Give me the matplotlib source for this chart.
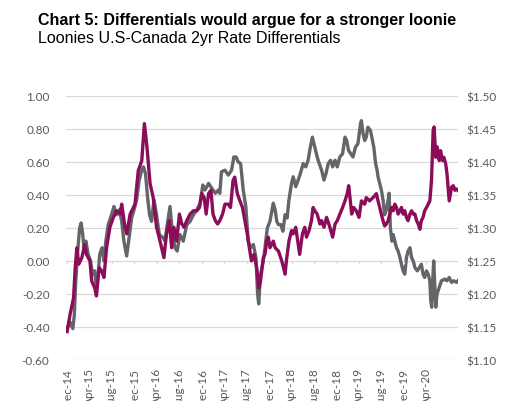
import matplotlib
matplotlib.use('Agg')
import matplotlib.pyplot as plt
from matplotlib.ticker import MultipleLocator, FuncFormatter, FixedLocator
import matplotlib.dates as mdates
import pandas as pd

plt.rcParams['axes.unicode_minus'] = False

# ------------------------------------------------------------
# Data
# ------------------------------------------------------------
# US-Canada 2yr differential (left axis, %)
diff_dates = [
    '2014-12-01', '2014-12-17', '2015-01-01', '2015-01-09', '2015-01-17', '2015-01-26',
    '2015-02-07', '2015-02-15', '2015-02-24', '2015-03-02', '2015-03-13', '2015-03-25',
    '2015-04-07', '2015-04-18', '2015-04-29', '2015-05-09', '2015-05-18', '2015-05-27',
    '2015-06-08', '2015-06-19', '2015-06-29', '2015-07-12', '2015-07-30', '2015-08-12',
    '2015-08-26', '2015-09-10', '2015-09-23', '2015-10-05', '2015-10-20', '2015-11-04',
    '2015-11-16', '2015-11-29', '2015-12-13', '2015-12-27', '2016-01-10', '2016-01-19',
    '2016-01-30', '2016-02-10', '2016-02-21', '2016-03-03', '2016-03-16', '2016-03-30',
    '2016-04-14', '2016-05-05', '2016-05-15', '2016-05-27', '2016-06-11', '2016-06-25',
    '2016-07-08', '2016-07-20', '2016-08-04', '2016-08-22', '2016-09-10', '2016-09-28',
    '2016-10-16', '2016-11-04', '2016-11-21', '2016-12-06', '2016-12-18', '2017-01-06',
    '2017-01-24', '2017-02-12', '2017-03-01', '2017-03-08', '2017-03-17', '2017-04-05',
    '2017-04-23', '2017-05-11', '2017-05-23', '2017-06-04', '2017-06-16', '2017-06-29',
    '2017-07-13', '2017-07-27', '2017-08-09', '2017-08-22', '2017-09-06', '2017-09-20',
    '2017-09-29', '2017-10-05', '2017-10-15', '2017-10-30', '2017-11-08', '2017-11-21',
    '2017-12-05', '2017-12-23', '2018-01-02', '2018-01-11', '2018-01-20', '2018-02-02',
    '2018-02-13', '2018-02-25', '2018-03-08', '2018-03-18', '2018-04-01', '2018-04-10',
    '2018-04-24', '2018-05-07', '2018-05-19', '2018-06-03', '2018-06-17', '2018-06-30',
    '2018-07-12', '2018-07-23', '2018-08-05', '2018-08-18', '2018-08-29', '2018-09-11',
    '2018-09-24', '2018-10-05', '2018-10-17', '2018-10-30', '2018-11-10', '2018-11-23',
    '2018-12-05', '2018-12-19', '2019-01-03', '2019-01-16', '2019-01-25', '2019-02-04',
    '2019-02-16', '2019-02-28', '2019-03-14', '2019-03-27', '2019-04-10', '2019-04-15',
    '2019-04-24', '2019-05-03', '2019-05-11', '2019-05-20', '2019-06-03', '2019-06-14',
    '2019-06-21', '2019-07-01', '2019-07-09', '2019-07-14', '2019-07-23', '2019-08-01',
    '2019-08-10', '2019-08-19', '2019-08-28', '2019-09-07', '2019-09-12', '2019-09-19',
    '2019-09-27', '2019-10-04', '2019-10-13', '2019-10-22', '2019-10-31', '2019-11-10',
    '2019-11-18', '2019-11-27', '2019-12-06', '2019-12-15', '2019-12-24', '2020-01-03',
    '2020-01-12', '2020-01-21', '2020-01-30', '2020-02-12', '2020-02-23', '2020-03-05',
    '2020-03-14', '2020-03-23', '2020-04-02', '2020-04-11', '2020-04-20', '2020-04-25',
    '2020-04-30', '2020-05-08', '2020-05-11', '2020-05-17', '2020-05-22', '2020-05-29',
    '2020-06-10', '2020-06-22', '2020-07-10', '2020-07-22', '2020-08-03', '2020-08-16',
    '2020-08-28', '2020-09-12', '2020-09-19',
]
diff_vals = [
    -0.41, -0.37, -0.41, -0.33, -0.12, 0.04,
    0.20, 0.23, 0.16, 0.08, 0.12, 0.04,
    0.00, -0.08, -0.06, -0.16, -0.08, 0.04,
    0.08, 0.00, 0.12, 0.22, 0.28, 0.33,
    0.28, 0.31, 0.24, 0.12, 0.03, 0.16,
    0.26, 0.31, 0.37, 0.49, 0.55, 0.57,
    0.53, 0.39, 0.28, 0.24, 0.37, 0.28,
    0.16, 0.14, 0.12, 0.22, 0.33, 0.16,
    0.08, 0.06, 0.16, 0.12, 0.22, 0.24,
    0.28, 0.31, 0.35, 0.46, 0.43, 0.47,
    0.44, 0.41, 0.43, 0.41, 0.54, 0.55,
    0.52, 0.55, 0.63, 0.63, 0.60, 0.59,
    0.43, 0.33, 0.12, 0.08, 0.10, 0.02,
    -0.20, -0.26, -0.08, 0.00, 0.08, 0.20,
    0.24, 0.35, 0.31, 0.24, 0.22, 0.22,
    0.18, 0.28, 0.26, 0.37, 0.47, 0.51,
    0.45, 0.49, 0.53, 0.59, 0.57, 0.61,
    0.69, 0.75, 0.69, 0.63, 0.59, 0.55,
    0.49, 0.53, 0.59, 0.61, 0.57, 0.61,
    0.57, 0.63, 0.65, 0.75, 0.73, 0.67,
    0.65, 0.63, 0.69, 0.71, 0.83, 0.85,
    0.77, 0.73, 0.75, 0.81, 0.79, 0.73,
    0.69, 0.59, 0.55, 0.51, 0.47, 0.43,
    0.37, 0.28, 0.31, 0.37, 0.41, 0.20,
    0.12, 0.16, 0.12, 0.08, 0.06, 0.02,
    -0.02, -0.06, -0.08, 0.02, 0.06, 0.08,
    0.02, 0.00, -0.04, -0.06, -0.04, -0.02,
    -0.08, -0.10, -0.06, -0.08, -0.12, -0.24,
    -0.28, -0.06, 0.00, -0.16, -0.28, -0.20,
    -0.16, -0.12, -0.11, -0.12, -0.10, -0.13,
    -0.12, -0.13, -0.12,
]

# USD/CAD (right axis)
cad_dates = [
    '2014-12-01', '2014-12-17', '2015-01-05', '2015-01-14', '2015-01-23', '2015-02-02',
    '2015-02-19', '2015-03-07', '2015-03-16', '2015-04-04', '2015-04-13', '2015-04-30',
    '2015-05-09', '2015-05-24', '2015-06-06', '2015-06-19', '2015-07-03', '2015-07-21',
    '2015-08-09', '2015-08-26', '2015-09-14', '2015-09-23', '2015-10-11', '2015-10-20',
    '2015-11-08', '2015-12-04', '2015-12-22', '2016-01-10', '2016-01-24', '2016-02-07',
    '2016-02-24', '2016-03-12', '2016-03-30', '2016-04-18', '2016-05-09', '2016-05-23',
    '2016-06-07', '2016-06-20', '2016-07-02', '2016-07-17', '2016-08-01', '2016-08-14',
    '2016-08-26', '2016-09-10', '2016-09-28', '2016-10-16', '2016-11-04', '2016-11-18',
    '2016-11-30', '2016-12-13', '2016-12-24', '2017-01-06', '2017-01-19', '2017-01-30',
    '2017-02-12', '2017-02-24', '2017-03-08', '2017-03-23', '2017-04-05', '2017-04-23',
    '2017-05-05', '2017-05-19', '2017-05-28', '2017-06-11', '2017-06-25', '2017-07-09',
    '2017-07-22', '2017-08-04', '2017-08-15', '2017-08-27', '2017-09-10', '2017-09-24',
    '2017-10-05', '2017-10-15', '2017-10-30', '2017-11-08', '2017-11-17', '2017-11-26',
    '2017-12-05', '2017-12-23', '2018-01-02', '2018-01-20', '2018-02-07', '2018-02-16',
    '2018-02-25', '2018-03-04', '2018-03-18', '2018-04-01', '2018-04-10', '2018-04-24',
    '2018-05-07', '2018-05-15', '2018-05-30', '2018-06-12', '2018-06-21', '2018-07-05',
    '2018-07-18', '2018-07-27', '2018-08-05', '2018-08-18', '2018-09-02', '2018-09-11',
    '2018-09-24', '2018-10-08', '2018-10-26', '2018-11-10', '2018-11-23', '2018-12-05',
    '2018-12-19', '2019-01-03', '2019-01-16', '2019-01-28', '2019-02-05', '2019-02-12',
    '2019-02-21', '2019-03-04', '2019-03-18', '2019-04-02', '2019-04-15', '2019-05-03',
    '2019-05-11', '2019-05-29', '2019-06-17', '2019-07-05', '2019-07-14', '2019-07-23',
    '2019-08-01', '2019-08-10', '2019-08-19', '2019-08-28', '2019-09-07', '2019-09-16',
    '2019-09-25', '2019-10-04', '2019-10-13', '2019-10-22', '2019-10-31', '2019-11-10',
    '2019-11-18', '2019-11-27', '2019-12-06', '2019-12-15', '2019-12-24', '2020-01-03',
    '2020-01-12', '2020-01-21', '2020-01-30', '2020-02-08', '2020-02-17', '2020-02-26',
    '2020-03-05', '2020-03-14', '2020-03-23', '2020-04-02', '2020-04-11', '2020-04-20',
    '2020-04-29', '2020-05-08', '2020-05-13', '2020-05-22', '2020-05-29', '2020-06-10',
    '2020-06-17', '2020-06-28', '2020-07-05', '2020-07-15', '2020-07-22', '2020-07-28',
    '2020-08-03', '2020-08-10', '2020-08-16', '2020-08-25', '2020-09-03', '2020-09-12',
    '2020-09-19',
]
cad_vals = [
    1.143, 1.169, 1.194, 1.240, 1.270, 1.245,
    1.255, 1.275, 1.260, 1.250, 1.220, 1.209,
    1.197, 1.240, 1.235, 1.225, 1.270, 1.301,
    1.316, 1.326, 1.321, 1.336, 1.301, 1.291,
    1.321, 1.336, 1.387, 1.402, 1.458, 1.423,
    1.367, 1.346, 1.301, 1.280, 1.255, 1.291,
    1.311, 1.270, 1.301, 1.280, 1.321, 1.306,
    1.301, 1.311, 1.321, 1.326, 1.326, 1.331,
    1.352, 1.346, 1.321, 1.352, 1.357, 1.321,
    1.311, 1.306, 1.311, 1.321, 1.336, 1.336,
    1.331, 1.372, 1.377, 1.352, 1.341, 1.331,
    1.311, 1.291, 1.270, 1.250, 1.260, 1.240,
    1.209, 1.220, 1.255, 1.260, 1.280, 1.286,
    1.270, 1.280, 1.270, 1.265, 1.250, 1.240,
    1.230, 1.250, 1.280, 1.296, 1.291, 1.301,
    1.275, 1.260, 1.291, 1.301, 1.286, 1.296,
    1.311, 1.331, 1.326, 1.321, 1.306, 1.311,
    1.301, 1.316, 1.301, 1.286, 1.306, 1.311,
    1.321, 1.331, 1.341, 1.352, 1.364, 1.346,
    1.321, 1.331, 1.326, 1.316, 1.341, 1.336,
    1.346, 1.341, 1.346, 1.352, 1.341, 1.331,
    1.321, 1.311, 1.303, 1.306, 1.311, 1.321,
    1.331, 1.326, 1.336, 1.331, 1.321, 1.326,
    1.331, 1.321, 1.326, 1.316, 1.311, 1.321,
    1.326, 1.321, 1.321, 1.311, 1.306, 1.298,
    1.311, 1.316, 1.326, 1.331, 1.336, 1.341,
    1.372, 1.448, 1.453, 1.407, 1.423, 1.402,
    1.417, 1.402, 1.407, 1.397, 1.382, 1.362,
    1.341, 1.352, 1.362, 1.364, 1.357, 1.359,
    1.357,
]

# x-axis labels: every 4 months, Dec-14 .. Apr-20
tick_months = pd.date_range('2014-12-01', '2020-04-01', freq='4MS')

title = 'Chart 5: Differentials would argue for a stronger loonie'
subtitle = 'Loonies U.S-Canada 2yr Rate Differentials'

# ------------------------------------------------------------
# Styles
# ------------------------------------------------------------
gray = '#636569'
plum = '#8B0D5A'
grid_col = '#D9D9D9'
tick_col = '#595959'
tick_font = 'Lato'

diff_x = pd.to_datetime(diff_dates)
cad_x = pd.to_datetime(cad_dates)

fig = plt.figure(figsize=(5.17, 4.02), dpi=100)
ax = fig.add_axes([0.128, 0.102, 0.758, 0.657])
ax2 = ax.twinx()

ax.plot(diff_x, diff_vals, color=gray, lw=2.4, solid_joinstyle='round')
ax2.plot(cad_x, cad_vals, color=plum, lw=2.4, solid_joinstyle='round')

# left axis
ax.set_ylim(-0.6, 1.0)
ax.yaxis.set_major_locator(MultipleLocator(0.2))
ax.yaxis.set_major_formatter(FuncFormatter(lambda v, p: f'{v:.2f}'))
ax.grid(axis='y', color=grid_col, lw=0.9)
ax.set_axisbelow(True)

# right axis
ax2.set_ylim(1.10, 1.50)
ax2.yaxis.set_major_locator(MultipleLocator(0.05))
ax2.yaxis.set_major_formatter(FuncFormatter(lambda v, p: f'${v:.2f}'))

# x axis (labels at the bottom, small tick marks on the zero line)
ax.set_xlim(pd.Timestamp('2014-11-26'), pd.Timestamp('2020-09-20'))
ax.xaxis.set_major_locator(FixedLocator(mdates.date2num(tick_months)))
ax.xaxis.set_major_formatter(mdates.DateFormatter('%b-%y'))
ax.vlines(tick_months, -0.018, 0, color=grid_col, lw=0.9)

for a in (ax, ax2):
    for s in a.spines.values():
        s.set_visible(False)

ax.tick_params(axis='y', length=0, pad=12, labelsize=8.5, labelcolor=tick_col)
ax2.tick_params(axis='y', length=0, pad=6, labelsize=8.5, labelcolor=tick_col)
ax.tick_params(axis='x', length=0, pad=5, labelsize=8.5, labelcolor=tick_col, labelrotation=90)
for lab in ax.get_xticklabels() + ax.get_yticklabels() + ax2.get_yticklabels():
    lab.set_fontfamily(tick_font)

fig.text(38 / 517, 1 - 21 / 402, title, fontsize=11.5, fontweight='bold',
         family='Liberation Sans', va='center', ha='left')
fig.text(38 / 517, 1 - 39 / 402, subtitle, fontsize=11.5,
         family='Liberation Sans', va='center', ha='left')

fig.savefig('out.png', dpi=100)
